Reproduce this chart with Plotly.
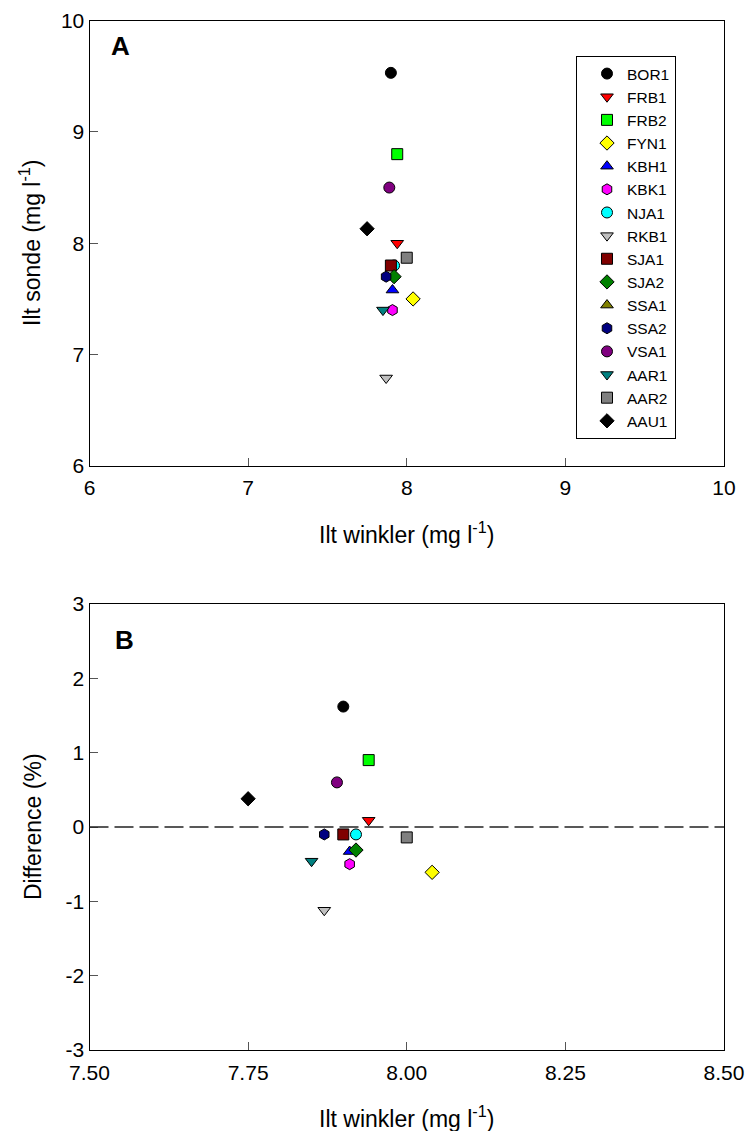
import plotly.graph_objects as go

# ---------------- data ----------------
stations = ["BOR1", "FRB1", "FRB2", "FYN1", "KBH1", "KBK1", "NJA1", "RKB1",
            "SJA1", "SJA2", "SSA1", "SSA2", "VSA1", "AAR1", "AAR2", "AAU1"]
winkler = [7.90, 7.94, 7.94, 8.04, 7.91, 7.91, 7.92, 7.87,
           7.90, 7.92, None, 7.87, 7.89, 7.85, 8.00, 7.75]
sonde = [9.53, 8.00, 8.80, 7.50, 7.58, 7.40, 7.80, 6.79,
         7.80, 7.70, None, 7.70, 8.50, 7.40, 7.87, 8.13]
difference = [1.62, 0.09, 0.90, -0.61, -0.33, -0.50, -0.10, -1.12,
              -0.10, -0.31, None, -0.10, 0.60, -0.46, -0.14, 0.38]
zero_line = 0

symbols = ["circle", "triangle-down", "square", "diamond", "triangle-up", "hexagon",
           "circle", "triangle-down", "square", "diamond", "triangle-up", "hexagon",
           "circle", "triangle-down", "square", "diamond"]
colors = ["#000000", "#FF0000", "#00FF00", "#FFFF00", "#0000FF", "#FF00FF",
          "#00FFFF", "#C0C0C0", "#800000", "#008000", "#808000", "#000080",
          "#800080", "#008080", "#808080", "#000000"]

yA_ticks = [6, 7, 8, 9, 10]
yA_text = ["6", "7", "8", "9", "10"]
xA_ticks = [6, 7, 8, 9, 10]
xA_text = ["6", "7", "8", "9", "10"]
yB_ticks = [-3, -2, -1, 0, 1, 2, 3]
yB_text = ["-3", "-2", "-1", "0", "1", "2", "3"]
xB_ticks = [7.50, 7.75, 8.00, 8.25, 8.50]
xB_text = ["7.50", "7.75", "8.00", "8.25", "8.50"]

# ---------------- figure ----------------
W, H = 747, 1131
FONT = "Liberation Sans, Arial, sans-serif"

fig = go.Figure()

for i, name in enumerate(stations):
    mk = dict(symbol=symbols[i], color=colors[i], size=11,
              line=dict(color="#000000", width=1))
    fig.add_trace(go.Scatter(
        x=[winkler[i]], y=[sonde[i]], mode="markers", name=name,
        marker=mk, xaxis="x", yaxis="y", showlegend=True))
for i, name in enumerate(stations):
    mk = dict(symbol=symbols[i], color=colors[i], size=11,
              line=dict(color="#000000", width=1))
    fig.add_trace(go.Scatter(
        x=[winkler[i]], y=[difference[i]], mode="markers", name=name,
        marker=mk, xaxis="x2", yaxis="y2", showlegend=False))

xdom = [89.5 / W, 724 / W]
ydomA = [(H - 466) / H, (H - 20.5) / H]
ydomB = [(H - 1050) / H, (H - 604) / H]

axis_common = dict(
    showgrid=False, zeroline=False, showline=True, linecolor="#000000", linewidth=1,
    mirror=True, ticks="inside", ticklen=8, tickwidth=1, tickcolor="#555555",
    tickfont=dict(family=FONT, size=21, color="#000000"), tickmode="array",
    automargin=False,
)

fig.update_layout(
    template="none",
    width=W, height=H, margin=dict(l=0, r=0, t=0, b=0, pad=0, autoexpand=False),
    paper_bgcolor="white", plot_bgcolor="white",
    font=dict(family=FONT, color="#000000"),
    xaxis=dict(domain=xdom, anchor="y", range=[6, 10], tickvals=xA_ticks,
               ticktext=xA_text, ticklabelstandoff=3, **axis_common),
    yaxis=dict(domain=ydomA, anchor="x", range=[6, 10], tickvals=yA_ticks,
               ticktext=yA_text, **axis_common),
    xaxis2=dict(domain=xdom, anchor="y2", range=[7.5, 8.5], tickvals=xB_ticks,
                ticktext=xB_text, ticklabelstandoff=4, **axis_common),
    yaxis2=dict(domain=ydomB, anchor="x2", range=[-3, 3], tickvals=yB_ticks,
                ticktext=yB_text, **axis_common),
    legend=dict(x=576 / W, y=(H - 56) / H, xanchor="left", yanchor="top",
                bgcolor="white", bordercolor="#000000", borderwidth=1,
                font=dict(family=FONT, size=15.5, color="#000000"),
                indentation=10, traceorder="normal",
                entrywidth=58, entrywidthmode="pixels"),
    showlegend=True,
)

# dashed zero line in panel B
fig.add_shape(type="line", xref="x2 domain", yref="y2", x0=0, x1=1,
              y0=zero_line, y1=zero_line,
              line=dict(color="#222222", width=1.5, dash="19px,6px"))

# axis titles & panel letters
ann = [
    dict(text="Ilt sonde (mg l<sup>-1</sup>)", x=30, y=243, textangle=-90, size=23),
    dict(text="Ilt winkler (mg l<sup>-1</sup>)", x=406, y=533, textangle=0, size=23),
    dict(text="Difference (%)", x=33, y=827, textangle=-90, size=23),
    dict(text="Ilt winkler (mg l<sup>-1</sup>)", x=406, y=1117, textangle=0, size=23),
    dict(text="<b>A</b>", x=121, y=46, textangle=0, size=26),
    dict(text="<b>B</b>", x=124, y=640, textangle=0, size=26),
]
for a in ann:
    fig.add_annotation(text=a["text"], x=a["x"] / W, y=(H - a["y"]) / H,
                       xref="paper", yref="paper", showarrow=False,
                       xanchor="center", yanchor="middle", textangle=a["textangle"],
                       font=dict(family=FONT, size=a["size"], color="#000000"))

fig.write_html("out.html")
